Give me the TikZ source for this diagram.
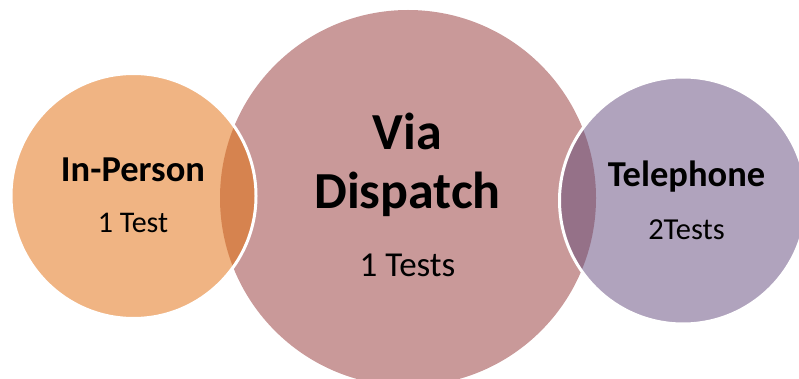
\documentclass[tikz,border=0pt]{standalone}
\usepackage{fontspec}
\setmainfont{Carlito}
\definecolor{pinkC}{HTML}{C99999}
\definecolor{orangeC}{HTML}{F0B483}
\definecolor{purpleC}{HTML}{B0A3BD}
\definecolor{orangeD}{HTML}{D6834F}
\definecolor{purpleD}{HTML}{957188}
\tikzset{
  head/.style={anchor=base, font=\bfseries\fontsize{36.5}{40}\selectfont},
  bighead/.style={anchor=base, font=\bfseries\fontsize{52}{58}\selectfont},
  sub/.style={anchor=base, font=\fontsize{30}{34}\selectfont},
  ring/.style={white, line width=3pt}
}
\begin{document}
\begin{tikzpicture}[x=1pt,y=-1pt]
\useasboundingbox (0,0) rectangle (799,379);
\coordinate (L) at (133.5,196);
\coordinate (M) at (408,198);
\coordinate (R) at (683,200.5);
% middle circle
\fill[pinkC] (M) circle[radius=188pt];
% left circle
\fill[orangeC] (L) circle[radius=122.5pt];
\begin{scope}
  \clip (M) circle[radius=188pt];
  \fill[orangeD] (L) circle[radius=122.5pt];
\end{scope}
\draw[ring] (L) circle[radius=122.5pt];
% right circle
\fill[purpleC] (R) circle[radius=123.5pt];
\begin{scope}
  \clip (M) circle[radius=188pt];
  \fill[purpleD] (R) circle[radius=123.5pt];
\end{scope}
\draw[ring] (R) circle[radius=123.5pt];
% texts
\node[head] (ip) at (133,182) {In-Person};
\node[sub] (ipt) at (133,233) {1 Test};
\node[bighead] (via) at (407.5,150) {Via};
\node[bighead] (disp) at (407.5,208) {Dispatch};
\node[sub, font=\fontsize{35}{40}\selectfont] (dt) at (407.5,276) {1 Tests};
\node[head] (tel) at (686.5,186) {Telephone};
\node[sub, font=\fontsize{30.5}{35}\selectfont] (tt) at (686.5,239) {2Tests};
\end{tikzpicture}
\end{document}
